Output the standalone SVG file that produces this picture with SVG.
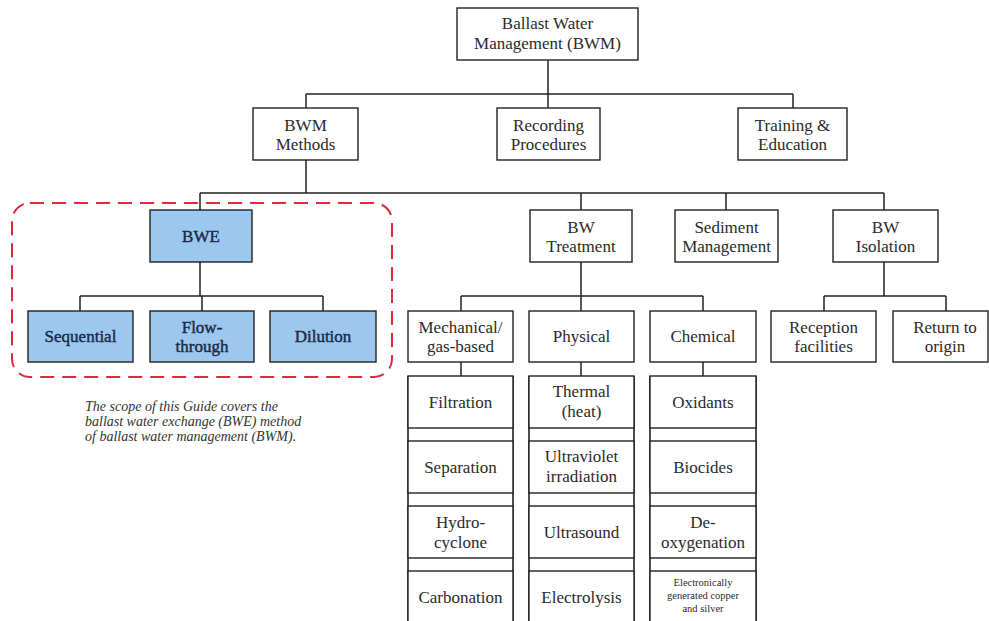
<svg xmlns="http://www.w3.org/2000/svg" width="989" height="621" viewBox="0 0 989 621">
<style>
.b{fill:#fff;stroke:#222;stroke-width:1.4}
.bl{fill:#9cc8f0;stroke:#222;stroke-width:1.4}
.t{font-family:"Liberation Serif","Times New Roman",serif;font-size:17px;fill:#2a2a2a;text-anchor:middle}
.tb{font-family:"Liberation Serif","Times New Roman",serif;font-size:17px;fill:#1c2a48;stroke:#1c2a48;stroke-width:0.45;text-anchor:middle}
.ts{font-family:"Liberation Serif","Times New Roman",serif;font-size:10.5px;fill:#2a2a2a;text-anchor:middle}
.cap{font-family:"Liberation Serif","Times New Roman",serif;font-size:14px;font-style:italic;fill:#333}
.c{fill:none;stroke:#222;stroke-width:1.5}
.side{stroke:#222;stroke-width:1.6}
</style>
<rect width="989" height="621" fill="#fff"/>
<g id="connectors">
<path class="c" d="M548 60V94M306 94H793M306 94V108M548 94V108M793 94V108"/>
<path class="c" d="M306 160V193M200 193H884M200 193V210M581 193V210M726 193V210M884 193V210"/>
<path class="c" d="M200 262V296M80 296H323M80 296V311M202 296V311M323 296V311"/>
<path class="c" d="M581 262V296M461 296H703M461 296V311M581 296V311M703 296V311"/>
<path class="c" d="M884 262V296M824 296H946M824 296V311M946 296V311"/>
<path class="c" d="M461 362V376M581 362V376M703 362V376"/>
</g>
<g id="scope">
<rect x="12" y="203" width="380" height="174" rx="18" fill="none" stroke="#e0283c" stroke-width="2" stroke-dasharray="14 8"/>
<text class="cap" x="85" y="411">The scope of this Guide covers the</text>
<text class="cap" x="85" y="426">ballast water exchange (BWE) method</text>
<text class="cap" x="85" y="441">of ballast water management (BWM).</text>
</g>
<g id="bwm"><rect class="b" x="457" y="8" width="181" height="52"/><text class="t" x="547.5" y="29">Ballast Water</text><text class="t" x="547.5" y="49">Management (BWM)</text></g>
<g id="methods"><rect class="b" x="253" y="108" width="105" height="52"/><text class="t" x="305.5" y="130.5">BWM</text><text class="t" x="305.5" y="150">Methods</text></g>
<g id="recording"><rect class="b" x="497" y="108" width="103" height="52"/><text class="t" x="548.5" y="130.5">Recording</text><text class="t" x="548.5" y="150">Procedures</text></g>
<g id="training"><rect class="b" x="738" y="108" width="109" height="52"/><text class="t" x="792.5" y="130.5">Training &amp;</text><text class="t" x="792.5" y="150">Education</text></g>
<g id="bwe"><rect class="bl" x="150" y="210" width="102" height="52"/><text class="tb" x="201" y="242">BWE</text></g>
<g id="treatment"><rect class="b" x="530" y="210" width="102" height="52"/><text class="t" x="581" y="232.5">BW</text><text class="t" x="581" y="252">Treatment</text></g>
<g id="sediment"><rect class="b" x="675" y="210" width="103" height="52"/><text class="t" x="726.5" y="232.5">Sediment</text><text class="t" x="726.5" y="252">Management</text></g>
<g id="isolation"><rect class="b" x="833" y="210" width="105" height="52"/><text class="t" x="885.5" y="232.5">BW</text><text class="t" x="885.5" y="252">Isolation</text></g>
<g id="sequential"><rect class="bl" x="28" y="311" width="105" height="51"/><text class="tb" x="80.5" y="342">Sequential</text></g>
<g id="flowthrough"><rect class="bl" x="150" y="311" width="104" height="51"/><text class="tb" x="202" y="333">Flow-</text><text class="tb" x="202" y="352">through</text></g>
<g id="dilution"><rect class="bl" x="270" y="311" width="106" height="51"/><text class="tb" x="323" y="342">Dilution</text></g>
<g id="mechanical"><rect class="b" x="408" y="311" width="105" height="51"/><text class="t" x="460.5" y="333">Mechanical/</text><text class="t" x="460.5" y="352">gas-based</text></g>
<g id="physical"><rect class="b" x="529" y="311" width="105" height="51"/><text class="t" x="581.5" y="342">Physical</text></g>
<g id="chemical"><rect class="b" x="650" y="311" width="106" height="51"/><text class="t" x="703" y="342">Chemical</text></g>
<g id="reception"><rect class="b" x="771" y="311" width="105" height="51"/><text class="t" x="823.5" y="333">Reception</text><text class="t" x="823.5" y="352">facilities</text></g>
<g id="return"><rect class="b" x="893" y="311" width="95" height="51"/><text class="t" x="945" y="333">Return to</text><text class="t" x="945" y="352">origin</text></g>
<g id="col-mech">
<path class="side" d="M408 376V621M513 376V621"/>
<rect class="b" x="408" y="376" width="105" height="52"/><text class="t" x="460.5" y="408">Filtration</text>
<rect class="b" x="408" y="441" width="105" height="52"/><text class="t" x="460.5" y="473">Separation</text>
<rect class="b" x="408" y="506" width="105" height="52"/><text class="t" x="460.5" y="528">Hydro-</text><text class="t" x="460.5" y="548">cyclone</text>
<rect class="b" x="408" y="571" width="105" height="60"/><text class="t" x="460.5" y="603">Carbonation</text>
</g>
<g id="col-phys">
<path class="side" d="M529 376V621M634 376V621"/>
<rect class="b" x="529" y="376" width="105" height="52"/><text class="t" x="581.5" y="397">Thermal</text><text class="t" x="581.5" y="417">(heat)</text>
<rect class="b" x="529" y="441" width="105" height="52"/><text class="t" x="581.5" y="462">Ultraviolet</text><text class="t" x="581.5" y="482">irradiation</text>
<rect class="b" x="529" y="506" width="105" height="52"/><text class="t" x="581.5" y="538">Ultrasound</text>
<rect class="b" x="529" y="571" width="105" height="60"/><text class="t" x="581.5" y="603">Electrolysis</text>
</g>
<g id="col-chem">
<path class="side" d="M650 376V621M756 376V621"/>
<rect class="b" x="650" y="376" width="106" height="52"/><text class="t" x="703" y="408">Oxidants</text>
<rect class="b" x="650" y="441" width="106" height="52"/><text class="t" x="703" y="473">Biocides</text>
<rect class="b" x="650" y="506" width="106" height="52"/><text class="t" x="703" y="528">De-</text><text class="t" x="703" y="548">oxygenation</text>
<rect class="b" x="650" y="571" width="106" height="60"/><text class="ts" x="703" y="586">Electronically</text><text class="ts" x="703" y="599">generated copper</text><text class="ts" x="703" y="612">and silver</text>
</g>
</svg>
